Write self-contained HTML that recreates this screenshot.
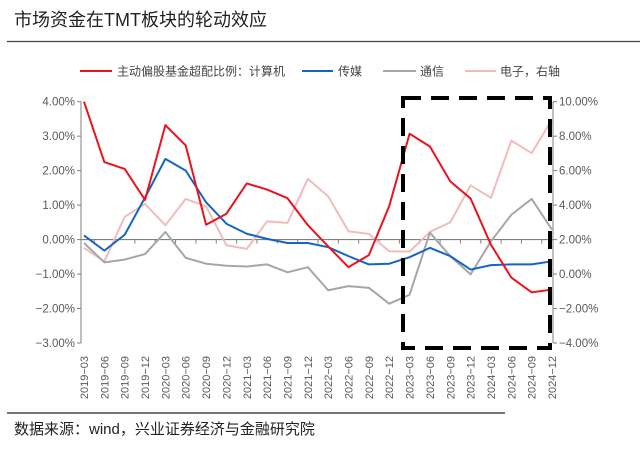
<!DOCTYPE html>
<html><head><meta charset="utf-8"><style>
body{margin:0;background:#fff;}
svg text{font-family:"Liberation Sans","Noto Sans CJK SC",sans-serif;}
</style></head><body>
<svg width="640" height="445" viewBox="0 0 640 445">
<text x="14" y="26" font-size="18" fill="#222">市场资金在TMT板块的轮动效应</text>
<line x1="7" y1="41.5" x2="640" y2="41.5" stroke="#444" stroke-width="1.2"/>
<g id="legend" font-size="12" fill="#444">
<line x1="80" y1="71" x2="112" y2="71" stroke="#e8141e" stroke-width="2"/>
<text x="117" y="75.5">主动偏股基金超配比例：计算机</text>
<line x1="302" y1="71" x2="333" y2="71" stroke="#1565c0" stroke-width="2"/>
<text x="338" y="75.5">传媒</text>
<line x1="383" y1="71" x2="416" y2="71" stroke="#a6a6a6" stroke-width="2"/>
<text x="420" y="75.5">通信</text>
<line x1="465" y1="71" x2="496" y2="71" stroke="#f0bcbc" stroke-width="2"/>
<text x="500" y="75.5">电子，右轴</text>
</g>
<g id="plot"></g>
<line x1="7" y1="413" x2="505" y2="413" stroke="#222" stroke-width="1.2"/>
<text x="14" y="434" font-size="15" fill="#222">数据来源：wind，兴业证券经济与金融研究院</text>
</svg>
<script>
const categories=["2019-03","2019-06","2019-09","2019-12","2020-03","2020-06","2020-09","2020-12","2021-03","2021-06","2021-09","2021-12","2022-03","2022-06","2022-09","2022-12","2023-03","2023-06","2023-09","2023-12","2024-03","2024-06","2024-09","2024-12"];
const computer=[4.0,2.25,2.05,1.15,3.32,2.73,0.43,0.75,1.63,1.45,1.2,0.42,-0.2,-0.8,-0.45,0.97,3.07,2.7,1.69,1.19,-0.15,-1.1,-1.53,-1.45];
const media=[0.12,-0.32,0.14,1.22,2.34,2.0,1.08,0.46,0.17,0.02,-0.1,-0.1,-0.22,-0.48,-0.72,-0.7,-0.51,-0.24,-0.48,-0.87,-0.74,-0.72,-0.72,-0.63];
const telecom=[-0.1,-0.66,-0.58,-0.42,0.22,-0.53,-0.7,-0.76,-0.78,-0.72,-0.95,-0.8,-1.47,-1.35,-1.4,-1.86,-1.6,0.2,-0.48,-1.01,-0.05,0.72,1.18,0.29];
const electronics=[1.52,0.74,3.32,4.07,2.83,4.36,3.93,1.67,1.46,3.06,2.97,5.52,4.51,2.48,2.33,1.32,1.3,2.45,3.0,5.15,4.42,7.74,7.02,8.96];
const leftTicks=[4,3,2,1,0,-1,-2,-3];
const rightTicks=[10,8,6,4,2,0,-2,-4];
const NS="http://www.w3.org/2000/svg";
const g=document.getElementById('plot');
const X0=84,X1=552,AXL=81,AXR=553,YT=101.7,YB=343;
const xs=i=>X0+(X1-X0)*i/(categories.length-1);
const yl=v=>YT+(4-v)/7*(YB-YT);
const yr=v=>YT+(10-v)/14*(YB-YT);
function mk(t,a){const e=document.createElementNS(NS,t);for(const k in a)e.setAttribute(k,a[k]);g.appendChild(e);return e;}
let e;
e=mk('line',{x1:AXL,y1:YT,x2:AXL,y2:YB,stroke:'#808080','stroke-width':1});


e=mk('line',{x1:AXR,y1:YT,x2:AXR,y2:YB,stroke:'#808080','stroke-width':1});


leftTicks.forEach(v=>{
 const y=yl(v);
 mk('line',{x1:AXL-4,y1:y,x2:AXL,y2:y,stroke:'#808080'});
 const t=mk('text',{x:AXL-6,y:y+4,'font-size':11.5,fill:'#595959','text-anchor':'end'});
 t.textContent=(v<0?'−':'')+Math.abs(v).toFixed(2)+'%';
 
 
});
rightTicks.forEach(v=>{
 const y=yr(v);
 mk('line',{x1:AXR,y1:y,x2:AXR+4,y2:y,stroke:'#808080'});
 const t=mk('text',{x:AXR+6,y:y+4,'font-size':11.5,fill:'#595959'});
 t.textContent=(v<0?'−':'')+Math.abs(v).toFixed(2)+'%';
 
 
});
const y0=yl(0);
e=mk('line',{x1:AXL,y1:y0,x2:AXR,y2:y0,stroke:'#808080','stroke-width':1.2});


categories.forEach((c,i)=>{
 const x=xs(i);
 if(i>0){const xm=(xs(i)+xs(i-1))/2;mk('line',{x1:xm,y1:y0,x2:xm,y2:y0+4,stroke:'#808080'});}
 const t=mk('text',{x:0,y:0,'font-size':11,fill:'#595959','text-anchor':'end',transform:`translate(${x+4},356) rotate(-90)`});
 t.textContent=c.replace('-','−');
 
 
});
function series(arr,yf,col,w,name){
 const p=mk('polyline',{points:arr.map((v,i)=>xs(i)+','+yf(v)).join(' '),fill:'none',stroke:col,'stroke-width':w,'stroke-linejoin':'round'});
 
 
}
series(electronics,yr,'#f0bcbc',2,'line-electronics');
series(telecom,yl,'#a6a6a6',2,'line-telecom');
series(media,yl,'#1565c0',2,'line-media');
series(computer,yl,'#e8141e',2,'line-computer');
e=mk('rect',{x:403,y:98,width:147,height:250,fill:'none',stroke:'#000','stroke-width':4,'stroke-dasharray':'18 10'});


</script>
</body></html>
